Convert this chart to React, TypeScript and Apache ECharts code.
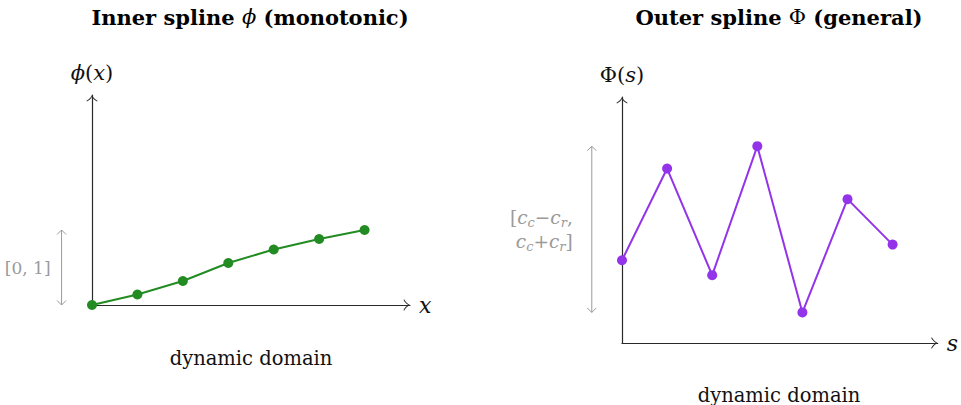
import React, { useEffect, useRef } from "react";
import * as echarts from "echarts";

// Knot positions shared by both splines
const knots = [0, 1, 2, 3, 4, 5, 6];
// Inner (monotonic) spline values at the knots
const innerPhi = [0, 0.14, 0.32, 0.56, 0.74, 0.88, 1.0];
// Outer (general) spline values at the knots
const outerPhi = [1.11, 2.34, 0.91, 2.64, 0.41, 1.93, 1.32];
// Codomain of the inner spline
const innerRange = [0, 1];

const xMax = 7;
const innerYMax = 2.8;
const outerYMax = 3.3;
const bracketX = -0.67;

const SERIF = '"DejaVu Serif", serif';
const AXIS = "#2a2a2a";
const GRAY = "#9a9a9a";
const GREEN = "#228b22";
const PURPLE = "#9333ea";

// Open chevron used as the axis arrow head (pointing up before rotation)
const ARROW =
  "path://M0,5.2 C2.4,4 4,2.2 5,0 C6,2.2 7.6,4 10,5.2 L9.7,6 C7.5,4.9 5.9,3.4 5,1.6 C4.1,3.4 2.5,4.9 0.3,6 Z";

const mathRich = (size: number, color: string) => ({
  i: { fontFamily: SERIF, fontStyle: "italic", fontSize: size, color, lineHeight: 24 },
  n: { fontFamily: SERIF, fontSize: size, color, lineHeight: 24 },
  s: {
    fontFamily: SERIF,
    fontStyle: "italic",
    fontSize: Math.round(size * 0.68),
    color,
    lineHeight: 14,
    verticalAlign: "bottom",
  },
});

// Double-headed bracket showing a value range beside the y axis
function bracketRenderer(label: string, gap: number, size: number) {
  return (_params: any, api: any) => {
    const x = api.value(0);
    const lo = api.value(1);
    const hi = api.value(2);
    const top = api.coord([x, hi]);
    const bot = api.coord([x, lo]);
    const cx = top[0];
    const w = 4.5;
    const h = 4.5;
    const stroke = { stroke: GRAY, lineWidth: 1, fill: "none" };
    return {
      type: "group",
      children: [
        { type: "line", shape: { x1: cx, y1: top[1], x2: cx, y2: bot[1] }, style: stroke },
        {
          type: "polyline",
          shape: { points: [[cx - w, top[1] + h], [cx, top[1]], [cx + w, top[1] + h]] },
          style: stroke,
        },
        {
          type: "polyline",
          shape: { points: [[cx - w, bot[1] - h], [cx, bot[1]], [cx + w, bot[1] - h]] },
          style: stroke,
        },
        {
          type: "text",
          x: cx - gap,
          y: (top[1] + bot[1]) / 2,
          style: {
            text: label,
            rich: mathRich(size, GRAY),
            fill: GRAY,
            fontFamily: SERIF,
            fontSize: size,
            align: "right",
            verticalAlign: "middle",
          },
        },
      ],
    };
  };
}

const axisLine = {
  show: true,
  onZero: false,
  symbol: ["none", ARROW],
  symbolSize: [11, 6.6],
  symbolOffset: [0, -3.3],
  lineStyle: { color: AXIS, width: 1.2 },
};

const axisX = (gridIndex: number, name: string) => ({
  gridIndex,
  type: "value",
  min: 0,
  max: xMax,
  name,
  nameLocation: "end",
  nameGap: 9,
  nameTextStyle: {
    fontFamily: SERIF,
    fontStyle: "italic",
    fontSize: 22,
    color: "#111",
    verticalAlign: "middle",
  },
  axisLine,
  axisTick: { show: false },
  axisLabel: { show: false },
  splitLine: { show: false },
});

const axisY = (gridIndex: number, max: number, name: string) => ({
  gridIndex,
  type: "value",
  min: 0,
  max,
  name,
  nameLocation: "end",
  nameGap: 10,
  nameTextStyle: {
    align: "center",
    verticalAlign: "bottom",
    rich: mathRich(21, "#111"),
  },
  axisLine,
  axisTick: { show: false },
  axisLabel: { show: false },
  splitLine: { show: false },
});

const titleRich = {
  b: { fontFamily: SERIF, fontWeight: "bold", fontSize: 21, color: "#111" },
  m: { fontFamily: SERIF, fontStyle: "italic", fontSize: 21, color: "#111" },
  u: { fontFamily: SERIF, fontSize: 21, color: "#111" },
};

export default function App() {
  const ref = useRef<HTMLDivElement>(null);

  useEffect(() => {
    if (!ref.current) return;
    document.body.style.margin = "0";
    document.body.style.overflow = "hidden";
    const chart = echarts.init(ref.current, undefined, { renderer: "svg" });
    const outerLo = Math.min(...outerPhi);
    const outerHi = Math.max(...outerPhi);

    chart.setOption({
      animation: false,
      backgroundColor: "#fff",
      grid: [
        { left: 92, top: 95, width: 318, height: 210 },
        { left: 622, top: 97, width: 316, height: 246 },
      ],
      xAxis: [axisX(0, "x"), axisX(1, "s")],
      yAxis: [
        axisY(0, innerYMax, "{i|ϕ}{n|(}{i|x}{n|)}"),
        axisY(1, outerYMax, "{n|Φ(}{i|s}{n|)}"),
      ],
      series: [
        {
          type: "line",
          xAxisIndex: 0,
          yAxisIndex: 0,
          data: knots.map((k, i) => [k, innerPhi[i]]),
          symbol: "circle",
          symbolSize: 10,
          lineStyle: { color: GREEN, width: 2 },
          itemStyle: { color: GREEN },
          z: 5,
        },
        {
          type: "line",
          xAxisIndex: 1,
          yAxisIndex: 1,
          data: knots.map((k, i) => [k, outerPhi[i]]),
          symbol: "circle",
          symbolSize: 10,
          lineStyle: { color: PURPLE, width: 2 },
          itemStyle: { color: PURPLE },
          z: 5,
        },
        {
          type: "custom",
          xAxisIndex: 0,
          yAxisIndex: 0,
          data: [[bracketX, innerRange[0], innerRange[1]]],
          renderItem: bracketRenderer("{n|[0, 1]}", 11, 17),
          silent: true,
        },
        {
          type: "custom",
          xAxisIndex: 1,
          yAxisIndex: 1,
          data: [[bracketX, outerLo, outerHi]],
          renderItem: bracketRenderer(
            "{n|[}{i|c}{s|c}{n|−}{i|c}{s|r}{n|,}\n{i|c}{s|c}{n|+}{i|c}{s|r}{n|]}",
            19,
            18.5
          ),
          silent: true,
        },
      ],
      graphic: [
        {
          type: "text",
          x: 250,
          y: 17,
          style: {
            text: "{b|Inner spline }{m|ϕ}{b| (monotonic)}",
            rich: titleRich,
            align: "center",
            verticalAlign: "middle",
          },
        },
        {
          type: "text",
          x: 779,
          y: 17,
          style: {
            text: "{b|Outer spline }{u|Φ}{b| (general)}",
            rich: titleRich,
            align: "center",
            verticalAlign: "middle",
          },
        },
        {
          type: "text",
          x: 251,
          y: 358,
          style: {
            text: "dynamic domain",
            fontFamily: SERIF,
            fontSize: 19.5,
            fill: "#111",
            align: "center",
            verticalAlign: "middle",
          },
        },
        {
          type: "text",
          x: 779,
          y: 395,
          style: {
            text: "dynamic domain",
            fontFamily: SERIF,
            fontSize: 19.5,
            fill: "#111",
            align: "center",
            verticalAlign: "middle",
          },
        },
      ],
    });

    return () => chart.dispose();
  }, []);

  return (
    <div
      ref={ref}
      style={{ position: "absolute", left: 0, top: 0, width: 961, height: 405 }}
    />
  );
}
